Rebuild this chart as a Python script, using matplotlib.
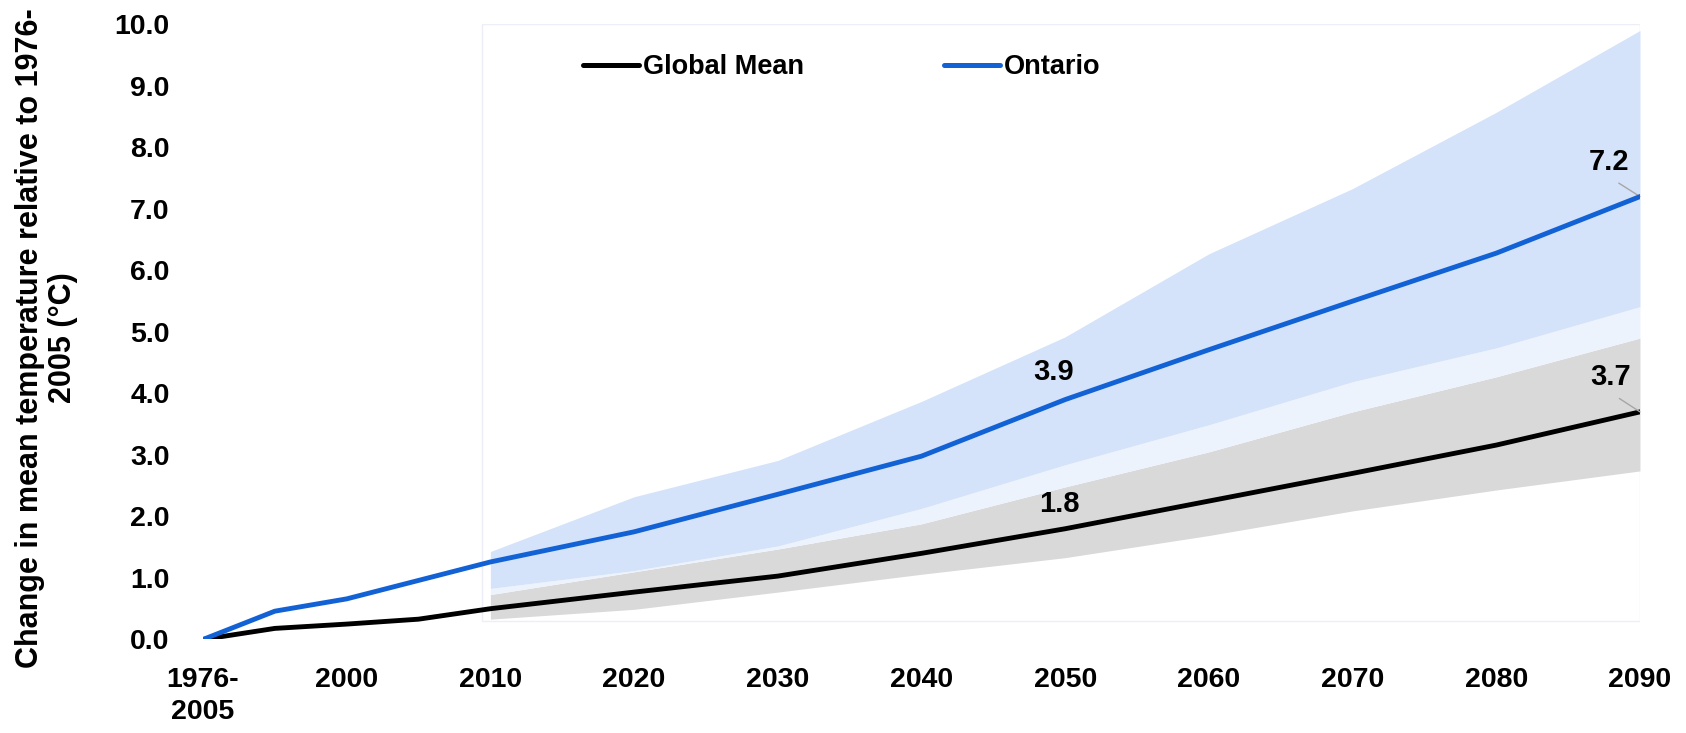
import numpy as np
import matplotlib.pyplot as plt
from matplotlib.lines import Line2D
from matplotlib.patches import Rectangle

# series years (1990 stands for the 1976-2005 baseline)
years = [1990, 1995, 2000, 2005, 2010, 2020, 2030, 2040, 2050, 2060, 2070, 2080, 2090]
ontario = [0.0, 0.46, 0.66, 0.96, 1.26, 1.75, 2.36, 2.98, 3.9, 4.71, 5.5, 6.28, 7.2]
global_mean = [0.0, 0.18, 0.25, 0.33, 0.5, 0.77, 1.03, 1.4, 1.8, 2.25, 2.7, 3.16, 3.7]

# projection ranges
band_years = [2010, 2020, 2030, 2040, 2050, 2060, 2070, 2080, 2090]
global_low = [0.33, 0.49, 0.77, 1.06, 1.33, 1.69, 2.09, 2.43, 2.74]
global_high = [0.73, 1.1, 1.47, 1.88, 2.48, 3.05, 3.7, 4.27, 4.9]
ontario_low = [0.83, 1.12, 1.52, 2.13, 2.84, 3.49, 4.19, 4.74, 5.41]
ontario_high = [1.43, 2.32, 2.91, 3.87, 4.92, 6.27, 7.33, 8.57, 9.9]

tick_years = [1990, 2000, 2010, 2020, 2030, 2040, 2050, 2060, 2070, 2080, 2090]
tick_labels = ['1976-\n2005', '2000', '2010', '2020', '2030', '2040', '2050',
               '2060', '2070', '2080', '2090']
y_ticks = np.arange(0, 11, 1)

font = ['Liberation Sans', 'DejaVu Sans']
blue = '#1262d6'

fig = plt.figure(figsize=(16.86, 7.33), dpi=100)
ax = fig.add_axes([0.1204, 0.1276, 0.8523, 0.8392])

# faint frame behind the projection period
ax.add_patch(Rectangle((2009.4, 0.3), 2090 - 2009.4, 9.7, facecolor='none',
                       edgecolor='#eeeef8', lw=1.0, zorder=0))

ax.fill_between(band_years, global_low, global_high, color='#d9d9d9', lw=0, zorder=1)
ax.fill_between(band_years, global_high, ontario_low, color='#edf3fd', lw=0, zorder=1)
ax.fill_between(band_years, ontario_low, ontario_high, color='#d4e3f9', lw=0, zorder=1)

ax.plot(years, global_mean, color='black', lw=3.5, zorder=3)
ax.plot(years, ontario, color=blue, lw=3.5, zorder=4)

ax.set_xlim(1990, 2090)
ax.set_ylim(0, 10)
ax.set_xticks(tick_years)
ax.set_xticklabels(tick_labels, fontsize=20.5, fontweight='bold', family=font,
                   linespacing=1.3)
ax.set_yticks(y_ticks)
ax.set_yticklabels([f'{v:.1f}' for v in y_ticks], fontsize=20.5, fontweight='bold',
                   family=font)
ax.tick_params(axis='both', length=0)
ax.tick_params(axis='x', pad=20)
ax.tick_params(axis='y', pad=24)
for s in ax.spines.values():
    s.set_visible(False)

ax.set_ylabel('Change in mean temperature relative to 1976-\n2005 (°C)',
              fontsize=22, fontweight='bold', family=font, linespacing=1.12)
ax.yaxis.set_label_coords(-0.087, 0.49)

# value labels
lbl = dict(fontsize=21, fontweight='bold', family=font,
           ha='center', va='center', textcoords='offset points')
i50 = years.index(2050)
ax.annotate(f'{ontario[i50]:.1f}', (2050, ontario[i50]), xytext=(-8, 20), **lbl)
ax.annotate(f'{global_mean[i50]:.1f}', (2050, global_mean[i50]), xytext=(-4, 18), **lbl)
leader = dict(arrowstyle='-', color='#a6a6a6', lw=1.0, shrinkA=6, shrinkB=0,
              relpos=(0.45, 0))
ax.annotate(f'{ontario[-1]:.1f}', (2090, ontario[-1]), xytext=(-22, 25),
            arrowprops=leader, annotation_clip=False, **lbl)
ax.annotate(f'{global_mean[-1]:.1f}', (2090, global_mean[-1]), xytext=(-21.5, 25),
            arrowprops=leader, annotation_clip=False, **lbl)

# legend, one entry per box so each sits in its own spot
leg_font = dict(family=font, weight='bold', size=19.5)
h1 = Line2D([], [], color='black', lw=3.6, solid_capstyle='round')
h2 = Line2D([], [], color=blue, lw=3.6, solid_capstyle='round')
leg1 = ax.legend([h1], ['Global Mean'], loc='center left', bbox_to_anchor=(583 / 1686, 1 - 67 / 733),
                 bbox_transform=fig.transFigure, frameon=False, prop=leg_font,
                 handlelength=2.05, handletextpad=0.15, borderpad=0, borderaxespad=0)
ax.add_artist(leg1)
ax.legend([h2], ['Ontario'], loc='center left', bbox_to_anchor=(944 / 1686, 1 - 67 / 733),
          bbox_transform=fig.transFigure, frameon=False, prop=leg_font,
          handlelength=2.05, handletextpad=0.15, borderpad=0, borderaxespad=0)

fig.savefig('out.png', dpi=100)
